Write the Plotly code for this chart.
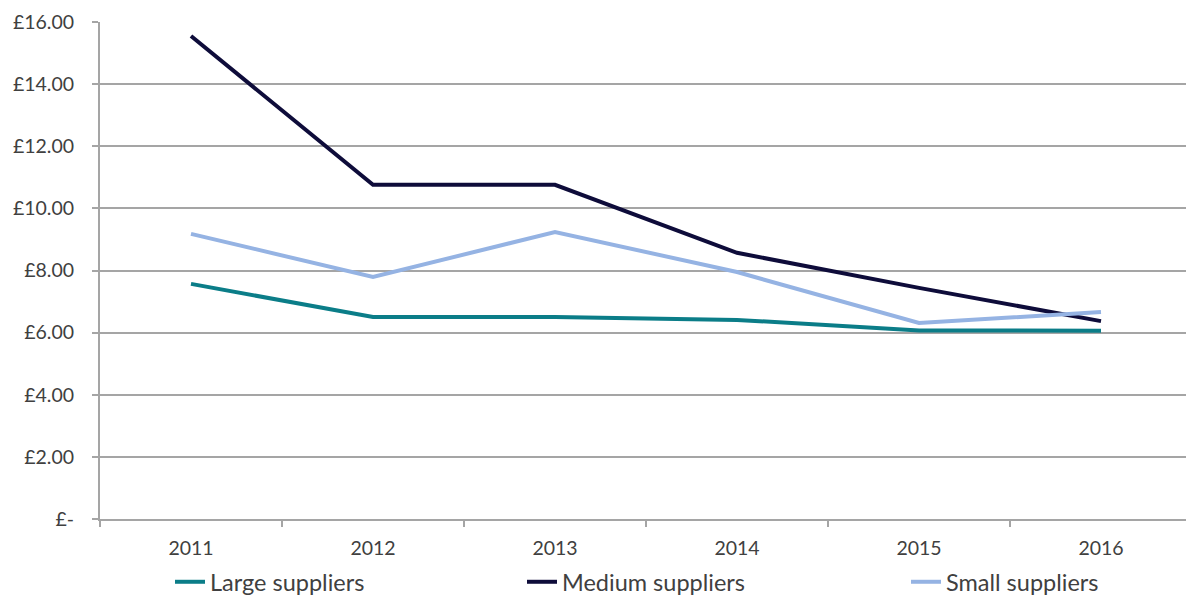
import plotly.graph_objects as go

years = ["2011", "2012", "2013", "2014", "2015", "2016"]
large = [7.57, 6.50, 6.50, 6.41, 6.07, 6.06]
medium = [15.55, 10.76, 10.76, 8.57, 7.44, 6.37]
small = [9.18, 7.79, 9.24, 7.95, 6.31, 6.66]
series_names = ["Large suppliers", "Medium suppliers", "Small suppliers"]
y_tick_values = [0, 2, 4, 6, 8, 10, 12, 14, 16]
y_tick_labels = ["£-", "£2.00", "£4.00", "£6.00", "£8.00", "£10.00", "£12.00", "£14.00", "£16.00"]

colors = ["#0b7d88", "#0e0c3a", "#95b3e3"]
FONT = "Lato"
TXT = "#404040"

fig = go.Figure()
for i, (name, vals) in enumerate(zip(series_names, [large, medium, small])):
    fig.add_trace(go.Scatter(
        x=years, y=vals, mode="lines", name=name, showlegend=True,
        line=dict(color=colors[i], width=4),
        legend="legend" if i == 0 else f"legend{i+1}",
    ))

# page body has an 8px margin, so the figure is sized to the visible area
FW, FH = 1186, 587
ML, MR, MT, MB = 92, 2, 14, 76
PW, PH = FW - ML - MR, FH - MT - MB
leg_y = (FH - MB - 574) / PH
leg_common = dict(orientation="h", yanchor="middle", y=leg_y, xanchor="left",
                  font=dict(family=FONT, size=23.5, color=TXT), bgcolor="rgba(0,0,0,0)",
                  borderwidth=0, visible=True)
fig.update_layout(
    width=FW, height=FH,
    showlegend=True,
    margin=dict(l=ML, r=MR, t=MT, b=MB, autoexpand=False),
    paper_bgcolor="white", plot_bgcolor="white",
    font=dict(family=FONT, color=TXT),
    legend=dict(**leg_common, x=(162 - ML) / PW),
    legend2=dict(**leg_common, x=(514 - ML) / PW),
    legend3=dict(**leg_common, x=(898 - ML) / PW),
    xaxis=dict(type="category", range=[-0.5, 5.5], showgrid=False, automargin=False,
               ticks="outside", tickson="boundaries", ticklen=6, tickwidth=2,
               tickcolor="#a5a5a5", showline=True, linecolor="#a5a5a5", linewidth=2,
               tickfont=dict(family=FONT, size=19.5, color=TXT), ticklabelstandoff=11),
    yaxis=dict(range=[0, 16], tickvals=y_tick_values, ticktext=y_tick_labels, automargin=False,
               showgrid=True, gridcolor="#a5a5a5", gridwidth=2,
               ticks="outside", ticklen=6, tickwidth=2, tickcolor="#a5a5a5",
               showline=True, linecolor="#a5a5a5", linewidth=2, zeroline=False,
               tickfont=dict(family=FONT, size=19.5, color=TXT), ticklabelstandoff=14),
)
fig.write_html("out.html")
